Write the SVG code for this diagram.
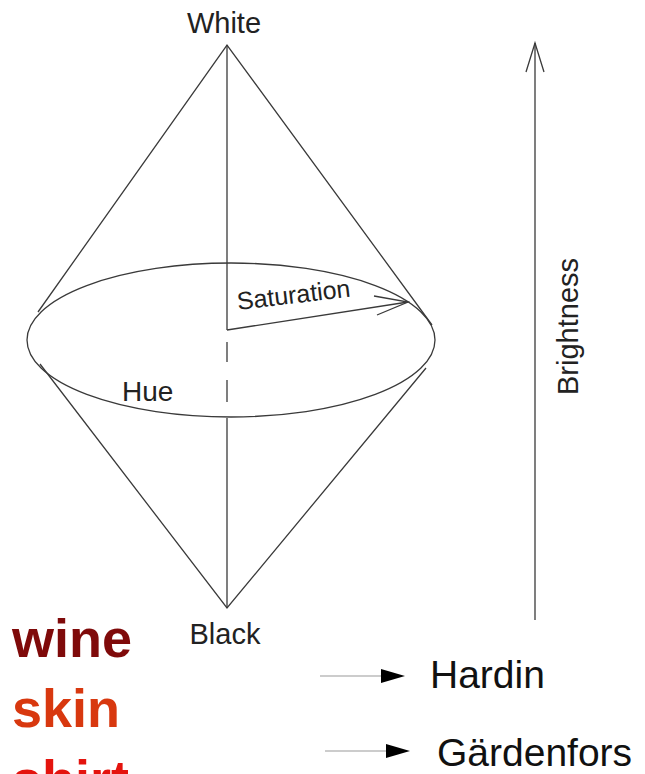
<svg xmlns="http://www.w3.org/2000/svg" width="645" height="774" viewBox="0 0 645 774">
<style>
.ln{fill:none;stroke:#3a3a3a;stroke-width:1.3}
.lbl{font-family:"Liberation Sans",Arial,sans-serif;fill:#222}
.big{font-family:"Liberation Sans",Arial,sans-serif;font-weight:bold;font-size:54px}
.ref{font-family:"Liberation Sans",Arial,sans-serif;font-size:39px;fill:#111}
</style>
<rect width="645" height="774" fill="#fff"/>
<g id="cone">
<ellipse cx="231" cy="340" rx="204" ry="77" class="ln"/>
<polyline points="38,312 227,45 432,325" class="ln"/>
<polyline points="40,364 227,608 426,368" class="ln"/>
<line x1="227" y1="45" x2="227" y2="330" class="ln"/>
<line x1="227" y1="342" x2="227" y2="362" class="ln"/>
<line x1="227" y1="380" x2="227" y2="402" class="ln"/>
<line x1="227" y1="418" x2="227" y2="608" class="ln"/>
</g>
<g id="saturation">
<polyline points="227,330 408,302" class="ln"/>
<polyline points="374,296 408,302 377,315" class="ln"/>
<text class="lbl" font-size="25" transform="translate(238,310) rotate(-6.8)">Saturation</text>
</g>
<g id="white"><text class="lbl" x="224" y="33" font-size="29" text-anchor="middle">White</text></g>
<g id="black"><text class="lbl" x="225" y="644" font-size="29" text-anchor="middle">Black</text></g>
<g id="hue"><text class="lbl" x="122" y="401" font-size="28">Hue</text></g>
<g id="brightness">
<line x1="535" y1="620" x2="535" y2="43" class="ln" stroke="#666"/>
<polyline points="526,72 535,43 544,72" class="ln"/>
<text class="lbl" font-size="29" transform="translate(578,395) rotate(-90)">Brightness</text>
</g>
<g id="words">
<text class="big" x="12" y="657" fill="#7f0a0a">wine</text>
<text class="big" x="12" y="727" fill="#d8380f">skin</text>
<text class="big" x="12" y="798" fill="#e4140e">shirt</text>
</g>
<g id="connectors">
<line x1="320" y1="676" x2="382" y2="676" stroke="#bbb" stroke-width="1.5"/>
<polygon points="381,669 381,683 405,676" fill="#000"/>
<line x1="325" y1="751" x2="387" y2="751" stroke="#bbb" stroke-width="1.5"/>
<polygon points="386,744 386,758 410,751" fill="#000"/>
</g>
<g id="hardin"><text class="ref" x="430" y="688">Hardin</text></g>
<g id="gardenfors"><text class="ref" x="437" y="766">Gärdenfors</text></g>
</svg>
